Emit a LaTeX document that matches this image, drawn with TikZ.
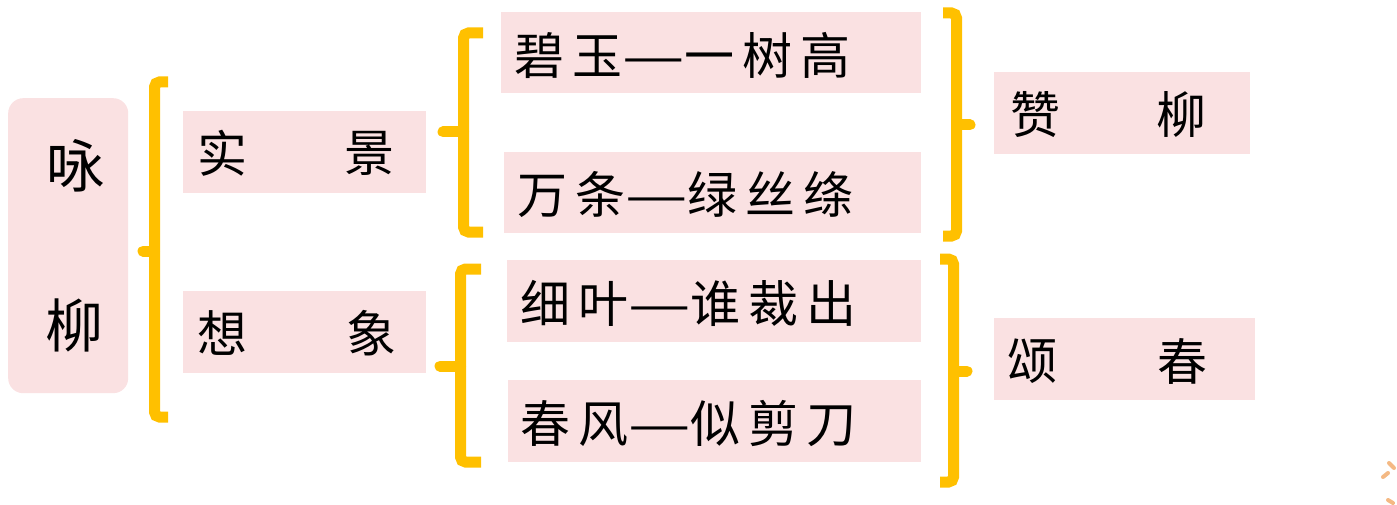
\documentclass[tikz,border=0pt]{standalone}
\usepackage{fontspec}
\usepackage{graphicx}
\newfontfamily\cjk{Noto Sans CJK SC}
\newfontfamily\cjkls{Noto Sans CJK SC}[LetterSpace=16]
\definecolor{boxpink}{RGB}{250,225,226}
\definecolor{bracegold}{RGB}{255,192,0}
\definecolor{dotorange}{RGB}{244,185,132}
\newcommand{\longdash}{\scalebox{1.4}[1]{—}}
\begin{document}
\begin{tikzpicture}[x=1pt,y=-1pt,
  box/.style={fill=boxpink, draw=none, anchor=north west, inner sep=0pt},
  txt/.style={inner sep=0pt, font=\cjk\fontsize{50}{60}\selectfont},
  rowtxt/.style={inner sep=0pt, anchor=west, font=\cjkls\fontsize{50}{60}\selectfont},
  bigtxt/.style={inner sep=0pt, font=\cjk\fontsize{58}{68}\selectfont},
  brace/.style={draw=bracegold, line width=11pt, rounded corners=5pt},
  bracetip/.style={draw=bracegold, line width=11pt, line cap=round},
  dot/.style={draw=dotorange, line width=4pt, line cap=round}]
\useasboundingbox (0,0) rectangle (1397,505);

% main box
\node[box, rounded corners=15pt, minimum width=120pt, minimum height=295pt] (main) at (8,98) {};
\node[bigtxt] (mainA) at (75,166) {咏};
\node[bigtxt] (mainB) at (74,325) {柳};

% second level
\node[box, minimum width=243pt, minimum height=82pt] (s1) at (183,111) {};
\node[txt] (s1a) at (222,153) {实};
\node[txt] (s1b) at (369,153) {景};
\node[box, minimum width=243pt, minimum height=82pt] (s2) at (183,291) {};
\node[txt] (s2a) at (222,333) {想};
\node[txt] (s2b) at (371,333) {象};

% lines of the poem
\node[box, minimum width=420pt, minimum height=81pt] (b1) at (501,12) {};
\node[rowtxt] (t1) at (514,55) {碧玉\longdash 一树高};
\node[box, minimum width=417pt, minimum height=81pt] (b2) at (504,152) {};
\node[rowtxt] (t2) at (517,195) {万条\longdash 绿丝绦};
\node[box, minimum width=414pt, minimum height=82pt] (b3) at (507,260) {};
\node[rowtxt] (t3) at (520,303) {细叶\longdash 谁裁出};
\node[box, minimum width=413pt, minimum height=82pt] (b4) at (508,380) {};
\node[rowtxt] (t4) at (520,423) {春风\longdash 似剪刀};

% right boxes
\node[box, minimum width=256pt, minimum height=82pt] (r1) at (994,72) {};
\node[txt] (r1a) at (1035,115) {赞};
\node[txt] (r1b) at (1181,115) {柳};
\node[box, minimum width=261pt, minimum height=82pt] (r2) at (994,318) {};
\node[txt] (r2a) at (1032,361) {颂};
\node[txt] (r2b) at (1182,361) {春};

% braces
\draw[brace] (168,82) -- (154.5,82) -- (154.5,417) -- (168,417);
\draw[bracetip] (154.5,251) -- (143,251);

\draw[brace] (483,33) -- (463.5,33) -- (463.5,232) -- (483,232);
\draw[bracetip] (463.5,132) -- (443,132);

\draw[brace] (481,269) -- (460.5,269) -- (460.5,462) -- (481,462);
\draw[bracetip] (460.5,366) -- (440,366);

\draw[brace] (943,13) -- (956.5,13) -- (956.5,236) -- (943,236);
\draw[bracetip] (956.5,125) -- (970,125);

\draw[brace] (940,259) -- (953.5,259) -- (953.5,482) -- (940,482);
\draw[bracetip] (953.5,371) -- (967,371);

% decorative marks
\draw[dot] (1389,463) -- (1394,468);
\draw[dot] (1383,477) -- (1388,473);
\draw[dot] (1388,500) -- (1393,503);
\end{tikzpicture}
\end{document}
